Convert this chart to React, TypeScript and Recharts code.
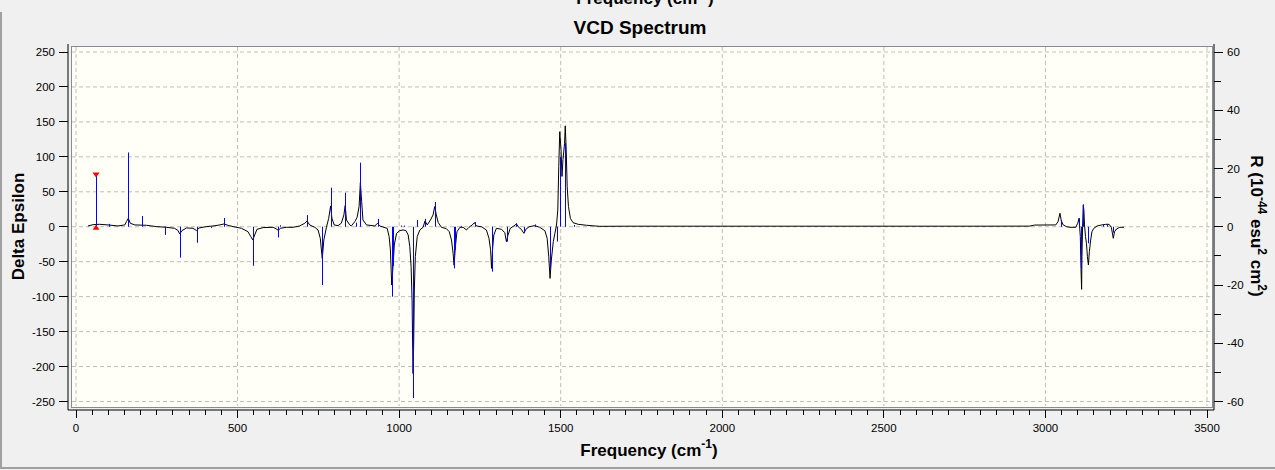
import React from 'react';
import { ComposedChart, Line, Bar, Scatter, XAxis, YAxis, CartesianGrid } from 'recharts';

const FONT = '"Liberation Sans", Arial, sans-serif';
const TICK_FONT = 11.5;

// broadened VCD spectrum (Delta Epsilon, left axis)
const SPEC_FREQ = [
  37, 53, 73, 99, 130, 151, 156, 162, 168, 182, 218, 249, 280, 305, 316, 321, 328, 342, 362, 373,
  381, 403, 424, 445, 458, 470, 486, 512, 532, 541, 547, 553, 560, 579, 610, 622, 626, 632, 651, 672,
  692, 708, 715, 723, 739, 749, 756, 762, 767, 775, 782, 788, 792, 799, 811, 821, 829, 833, 837, 847,
  852, 863, 870, 876, 880, 884, 888, 899, 925, 933, 940, 963, 969, 973, 977, 981, 985, 992, 1002, 1012,
  1021, 1028, 1033, 1037, 1040, 1042, 1043, 1045, 1047, 1050, 1056, 1064, 1074, 1080, 1087, 1097, 1105, 1110, 1115, 1121,
  1131, 1146, 1155, 1162, 1167, 1170, 1174, 1179, 1188, 1198, 1208, 1216, 1226, 1233, 1239, 1255, 1270, 1278, 1283, 1286,
  1289, 1293, 1301, 1317, 1327, 1332, 1337, 1344, 1355, 1363, 1370, 1378, 1386, 1392, 1402, 1420, 1435, 1451, 1458, 1463,
  1467, 1471, 1477, 1482, 1487, 1491, 1494, 1497, 1501, 1504, 1507, 1512, 1514, 1517, 1520, 1524, 1530, 1538, 1554, 1580,
  1621, 1700, 2000, 2400, 2800, 2950, 2967, 3032, 3039, 3045, 3049, 3055, 3065, 3076, 3094, 3100, 3104, 3108, 3110, 3112,
  3113, 3115, 3117, 3119, 3121, 3124, 3127, 3130, 3133, 3136, 3140, 3144, 3150, 3160, 3174, 3187, 3197, 3204, 3210, 3214,
  3220, 3230, 3243,
];
const SPEC_EPS = [
  1.1, 3.0, 3.5, 2.6, 1.1, 2.6, 7.4, 12.1, 5.0, 2.6, 2.1, 0.2, -0.8, -2.2, -5.5, -10.3, -5.5, -1.7, -2.2, -5.5,
  -1.7, 0.2, 1.1, 2.6, 4.0, 2.1, 0.2, -2.2, -7.0, -14.1, -18.9, -11.8, -3.7, -1.2, -0.8, -3.7, -5.5, -2.2, -0.8, -0.8,
  1.1, 5.0, 8.3, 2.6, -0.8, -4.6, -16.5, -45.2, -18.9, -0.8, 12.1, 29.8, 12.1, 2.6, 1.6, 5.0, 16.9, 30.3, 9.7, 2.6,
  1.1, 7.4, 13.6, 28.8, 63.2, 36.0, 9.7, 2.6, 1.1, 5.0, 1.1, -2.2, -14.1, -33.2, -83.4, -57.1, -26.1, -9.4, -5.5, -4.6,
  -5.5, -11.8, -28.5, -57.1, -104.9, -176.5, -210, -167, -90.6, -42.8, -14.1, -4.6, -0.8, 8.3, 2.6, 9.7, 16.9, 28.8, 16.9, 5.9,
  -0.8, -2.7, -7.0, -19, -38, -55, -28.5, -7, -0.8, -0.8, -4.6, -0.8, 2.5, 5.9, 1.1, 0, -4.6, -16.5, -33, -59.6,
  -33, -11.8, -2.2, -3.7, -8.5, -21.3, -11.8, -2.2, 1.1, 4.0, -0.8, -3.7, -9.4, -3.7, 0, 1.6, -0.8, -5.6, -16.5, -42.8,
  -73.9, -47.6, -21.3, -9.4, 2.5, 24, 86, 136, 110, 72, 96, 119.5, 144.4, 110, 57.5, 28.8, 12, 5.9, 3.5, 2.1,
  0.6, 0.8, 0.8, 0.8, 0.8, 0.9, 2.4, 2.6, 7.3, 19.3, 8.8, 2.6, 0.2, -0.8, -0.8, 5, 12.1, -14, -59.5, -89.6,
  -42.8, 0, 31.2, 24, 2.6, -14.1, -23.7, -42.8, -54.7, -35.6, -19, -7, -2.2, 1.1, 2.6, 3.5, 3.5, -0.8, -16.5, -7,
  -3.2, -0.8, -0.8,
];

// rotational strengths (R, right axis)
const STICK_FREQ = [
  62, 102, 162, 204, 276, 322, 374, 419, 458, 548, 625, 630, 715, 762, 789, 833, 866, 879, 935, 977,
  981, 1007, 1015, 1043, 1055, 1080, 1111, 1170, 1173, 1192, 1236, 1286, 1334, 1363, 1386, 1422, 1467, 1489, 1497, 1514,
  1541, 3047, 3104, 3110, 3117, 3132, 3177, 3191, 3208,
];
const STICK_R = [
  17.8, 1.0, 25.5, 3.7, -2.8, -10.6, -5.5, -0.4, 3.0, -13.4, -3.7, 0.5, 4.0, -20.0, 13.4, 11.7, 1.4, 22.0, 2.7, -24.0,
  -13.5, 0.4, 0.4, -58.8, 2.3, 2.7, 8.5, -14.3, -8.0, 0.3, 1.6, -15.4, -5.1, 1.2, -2.0, 0.8, -14.3, -5.1, 24.1, 28.7,
  0.6, 2.3, 2.9, -14.3, 7.7, -5.7, 0.6, 0.8, -2.0,
];

// selected mode (red markers)
const SELECTED_FREQ = 62;
const SELECTED_R = 17.8;

const X_TICKS = Array.from({ length: 71 }, (_, i) => i * 50);
const X_GRID = [0, 500, 1000, 1500, 2000, 2500, 3000, 3500];
const LEFT_TICKS = [-250, -200, -150, -100, -50, 0, 50, 100, 150, 200, 250];
const RIGHT_TICKS = [-60, -50, -40, -30, -20, -10, 0, 10, 20, 30, 40, 50, 60];

const spectrum = SPEC_FREQ.map((x, i) => ({ x, eps: SPEC_EPS[i] }));
const sticks = STICK_FREQ.map((x, i) => ({ x, r: STICK_R[i] }));
const selTop = [{ x: SELECTED_FREQ, r: SELECTED_R }];
const selBase = [{ x: SELECTED_FREQ, r: 0 }];

const XTick = (props: any) => {
  const { x, y, payload } = props;
  const v = payload.value;
  const major = v % 500 === 0;
  return (
    <g>
      <line x1={x} x2={x} y1={y} y2={y + (major ? 8 : 4.5)} stroke="#000" shapeRendering="crispEdges" />
      {major && (
        <text x={x} y={y + 22} textAnchor="middle" fontSize={TICK_FONT} fontFamily={FONT} fill="#000">
          {v}
        </text>
      )}
    </g>
  );
};

const LeftTick = (props: any) => {
  const { x, y, payload } = props;
  return (
    <g>
      <line x1={x - 9} x2={x} y1={y} y2={y} stroke="#000" shapeRendering="crispEdges" />
      <text x={x - 13} y={y + 4} textAnchor="end" fontSize={TICK_FONT} fontFamily={FONT} fill="#000">
        {payload.value}
      </text>
    </g>
  );
};

const RightTick = (props: any) => {
  const { x, y, payload } = props;
  const v = payload.value;
  const major = v % 20 === 0;
  return (
    <g>
      <line x1={x} x2={x + (major ? 9 : 7)} y1={y} y2={y} stroke="#000" shapeRendering="crispEdges" />
      {major && (
        <text x={x + 13} y={y + 4} textAnchor="start" fontSize={TICK_FONT} fontFamily={FONT} fill="#000">
          {v}
        </text>
      )}
    </g>
  );
};

const Stick = (props: any) => {
  const { x, y, width, height } = props;
  if (x == null || y == null) return null;
  const cx = Math.round(x + width / 2) + 0.5;
  return <line x1={cx} x2={cx} y1={y} y2={y + height} stroke="#0000ff" strokeWidth={1} />;
};

const DownTriangle = (props: any) => {
  const { cx, cy } = props;
  return <polygon points={`${cx - 3.5},${cy - 2.5} ${cx + 3.5},${cy - 2.5} ${cx},${cy + 2.5}`} fill="#ff0000" />;
};

const UpTriangle = (props: any) => {
  const { cx, cy } = props;
  return <polygon points={`${cx - 3.5},${cy + 3} ${cx + 3.5},${cy + 3} ${cx},${cy - 2}`} fill="#ff0000" />;
};

export default function App() {
  return (
    <div
      style={{
        position: 'absolute',
        left: 0,
        top: 0,
        width: 1275,
        height: 470,
        background: '#f0f0f0',
        fontFamily: FONT,
        overflow: 'hidden',
      }}
    >
      <div style={{ position: 'absolute', left: 0, top: 12, width: 2, height: 457, background: '#a0a0a0' }} />
      <div style={{ position: 'absolute', left: 0, top: 467, width: 1275, height: 2, background: '#a0a0a0' }} />
      <div
        style={{
          position: 'absolute',
          left: 71,
          top: 46,
          width: 1142,
          height: 362,
          boxSizing: 'border-box',
          border: '1px solid #858a96',
          background: '#fffff7',
        }}
      />
      <div style={{ position: 'absolute', left: 0, top: 0 }}>
        <ComposedChart
          width={1275}
          height={470}
          data={sticks}
          margin={{ top: 44, right: 0, bottom: 20, left: 8 }}
        >
          <CartesianGrid
            yAxisId="left"
            x={72}
            y={47}
            width={1138}
            height={359}
            verticalValues={X_GRID}
            horizontalValues={LEFT_TICKS}
            stroke="#bdbdbd"
            strokeDasharray="4 3"
          />
          <XAxis
            type="number"
            dataKey="x"
            domain={[0, 3500]}
            ticks={X_TICKS}
            interval={0}
            tick={<XTick />}
            tickSize={0}
            tickMargin={0}
            tickLine={false}
            axisLine={{ stroke: '#000' }}
            padding={{ left: 8, right: 7 }}
            height={40}
            allowDataOverflow
          />
          <YAxis
            yAxisId="left"
            orientation="left"
            type="number"
            domain={[-250, 250]}
            ticks={LEFT_TICKS}
            interval={0}
            tick={<LeftTick />}
            tickSize={0}
            tickMargin={0}
            tickLine={false}
            axisLine={{ stroke: '#000' }}
            padding={{ top: 8, bottom: 8.5 }}
            width={60}
            allowDataOverflow
          />
          <YAxis
            yAxisId="right"
            orientation="right"
            type="number"
            domain={[-60, 60]}
            ticks={RIGHT_TICKS}
            interval={0}
            tick={<RightTick />}
            tickSize={0}
            tickMargin={0}
            tickLine={false}
            axisLine={{ stroke: '#000' }}
            padding={{ top: 8, bottom: 8.5 }}
            width={61}
            allowDataOverflow
          />
          <Line
            yAxisId="left"
            data={spectrum}
            dataKey="eps"
            type="linear"
            stroke="#000"
            strokeWidth={1}
            dot={false}
            isAnimationActive={false}
          />
          <Bar
            yAxisId="right"
            dataKey="r"
            barSize={1}
            shape={<Stick />}
            isAnimationActive={false}
            zIndex={450}
          />
          <Scatter yAxisId="right" data={selTop} dataKey="r" shape={<DownTriangle />} isAnimationActive={false} />
          <Scatter yAxisId="right" data={selBase} dataKey="r" shape={<UpTriangle />} isAnimationActive={false} />
        </ComposedChart>
      </div>
      <svg
        width={1275}
        height={470}
        style={{ position: 'absolute', left: 0, top: 0, pointerEvents: 'none' }}
      >
        <text x={645} y={4} textAnchor="middle" fontSize={17} fontWeight="bold" fontFamily={FONT} fill="#000">
          Frequency (cm<tspan dy={-8} fontSize={12}>-1</tspan>
          <tspan dy={8}>)</tspan>
        </text>
        <text x={640} y={34} textAnchor="middle" fontSize={19} fontWeight="bold" fontFamily={FONT} fill="#000">
          VCD Spectrum
        </text>
        <text x={649} y={456} textAnchor="middle" fontSize={17} fontWeight="bold" fontFamily={FONT} fill="#000">
          Frequency (cm<tspan dy={-8} fontSize={12}>-1</tspan>
          <tspan dy={8}>)</tspan>
        </text>
        <text
          transform="translate(24,226.5) rotate(-90)"
          textAnchor="middle"
          fontSize={17}
          fontWeight="bold"
          fontFamily={FONT}
          fill="#000"
        >
          Delta Epsilon
        </text>
        <text
          transform="translate(1251,226) rotate(90)"
          textAnchor="middle"
          fontSize={17}
          fontWeight="bold"
          fontFamily={FONT}
          fill="#000"
        >
          R (10<tspan dy={-7} fontSize={12}>-44</tspan>
          <tspan dy={7}> esu</tspan>
          <tspan dy={-7} fontSize={12}>2</tspan>
          <tspan dy={7}> cm</tspan>
          <tspan dy={-7} fontSize={12}>2</tspan>
          <tspan dy={7}>)</tspan>
        </text>
      </svg>
    </div>
  );
}
